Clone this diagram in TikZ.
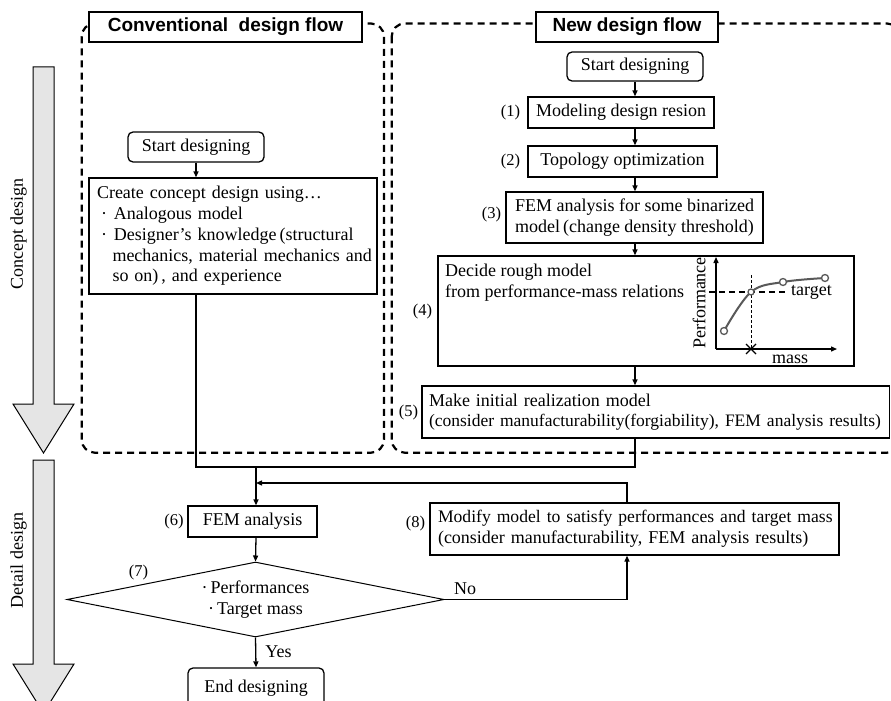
\documentclass[tikz,border=0pt]{standalone}
\usepackage{fontspec}
\setmainfont{Liberation Serif}
\newfontfamily\hdrfont{Liberation Sans}
\usetikzlibrary{arrows.meta,shapes.geometric}
\tikzset{
 txt/.style={font=\fontsize{18}{20.7}\selectfont},
 box/.style={draw, line width=1.3pt, fill=white, inner sep=0pt, txt},
 rbox/.style={box, rounded corners=5pt},
 hdr/.style={draw, line width=1.2pt, fill=white, inner sep=0pt, font=\hdrfont\bfseries\fontsize{19}{22}\selectfont},
 num/.style={font=\fontsize{16.5}{19}\selectfont, inner sep=0pt},
 lab/.style={txt, inner sep=0pt},
 arr/.style={line width=1.3pt, -{Triangle[length=6pt,width=5pt]}},
 ln/.style={line width=1.3pt},
 zone/.style={draw, line width=2.2pt, dash pattern=on 7pt off 5pt, rounded corners=13pt},
 bigarrow/.style={draw, line width=1pt, fill=black!10},
 curve/.style={draw=black!65, line width=2pt},
 mk/.style={draw=black!65, line width=1.3pt, fill=white},
}
\begin{document}
\begin{tikzpicture}[x=1pt, y=-1pt]
\useasboundingbox (0,0) rectangle (891,701);
\clip (0,0) rectangle (891,701);

% zones
\draw[zone] (81.7,23.5) rectangle (384,452.7);
\draw[zone] (391.7,23.5) rectangle (900,452.7);

% big side arrows
\draw[bigarrow] (33,67) -- (54,67) -- (54,404) -- (74,404) -- (43.5,453) -- (13,404) -- (33,404) -- cycle;
\draw[bigarrow] (33,460) -- (54,460) -- (54,664) -- (74,664) -- (43.5,713) -- (13,664) -- (33,664) -- cycle;
\node[lab, rotate=90] (cd) at (18.5,234) {Concept design};
\node[lab, rotate=90] (dd) at (18.5,560.5) {Detail design};

% headers
\node[hdr, minimum width=273pt, minimum height=30pt] (hconv) at (225.5,27) {Conventional\ \ design flow};
\node[hdr, minimum width=182pt, minimum height=30pt] (hnew) at (627,27) {New design flow};

% conventional flow
\node[rbox, minimum width=136pt, minimum height=30pt] (cs) at (196,147) {Start designing};
\node[box, text width=272pt, inner xsep=8pt, minimum height=116pt, align=left] (cc) at (233,236)
 {Create concept design using…\\
  \hspace*{4pt}·\hspace*{7pt}Analogous model\\
  \hspace*{4pt}·\hspace*{7pt}Designer’s knowledge\,(structural\\
  \mbox{\hspace*{15.5pt}mechanics, material mechanics and}\\
  \hspace*{15.5pt}so on)\,, and experience};

% new flow
\node[rbox, minimum width=136pt, minimum height=29pt] (ns) at (635,66.5) {Start designing};
\node[box, minimum width=186pt, minimum height=31pt] (n1) at (621,112.5) {Modeling design resion};
\node[box, minimum width=189pt, minimum height=31pt] (n2) at (622.5,161.5) {Topology optimization};
\node[box, minimum width=257pt, minimum height=51pt, align=center] (n3) at (634.5,217.5)
 {FEM analysis for some binarized\\model\,(change density threshold)};
\node[box, minimum width=416pt, minimum height=110pt] (n4) at (646,311) {};
\node[lab, anchor=west, align=left] (n4t) at (445,283) {Decide rough model\\from performance-mass relations};
\node[box, text width=453.5pt, inner xsep=7pt, minimum height=52pt, align=left] (n5) at (655.75,412)
 {Make initial realization model\\
  \mbox{\fontsize{17.5}{20.7}\selectfont (consider manufacturability(forgiability), FEM analysis results)}};

% detail flow
\node[box, minimum width=129pt, minimum height=31pt] (n6) at (252.5,521.5) {FEM analysis};
\node[draw, diamond, aspect=5, line width=1pt, minimum width=377pt, minimum height=75pt, inner sep=0pt, txt, align=center] (n7) at (255.5,599.5)
 {·\hspace{3pt}Performances\\·\hspace{3pt}Target mass};
\node[rbox, minimum width=136pt, minimum height=40pt] (ne) at (256,688) {End designing};
\node[box, text width=393pt, inner xsep=8pt, minimum height=52pt, align=left] (n8) at (634.5,529)
 {\mbox{\fontsize{17.6}{20.7}\selectfont Modify model to satisfy performances and target mass}\\
  (consider manufacturability, FEM analysis results)};

% step numbers
\node[num] (l1) at (510.5,113) {(1)};
\node[num] (l2) at (510.5,161.5) {(2)};
\node[num] (l3) at (491.5,215) {(3)};
\node[num] (l4) at (422.5,311.5) {(4)};
\node[num] (l5) at (408.5,412.5) {(5)};
\node[num] (l6) at (174,521.5) {(6)};
\node[num] (l7) at (138.5,572.5) {(7)};
\node[num] (l8) at (415.5,524) {(8)};

% connectors
\coordinate (jn) at (256,467);
\coordinate (jf) at (256,483);
\coordinate (fb) at (627,483);
\draw[arr] (cs) -- (cs |- cc.north);
\draw[arr] (ns) -- (ns |- n1.north);
\draw[arr] (n1.south -| ns) -- (n2.north -| ns);
\draw[arr] (n2.south -| ns) -- (n3.north -| ns);
\draw[arr] (n3.south -| ns) -- (n4.north -| ns);
\draw[arr] (n4.south -| ns) -- (n5.north -| ns);
\draw[ln] (cc.south -| cs) |- (jn) -| (n5.south -| ns);
\draw[arr] (jn) -- (jn |- n6.north);
\draw[arr] (n6.south -| jn) -- (n7.north);
\draw[arr] (n7.south) -- (ne.north);
\draw[arr] (n7.east) -| (fb |- n8.south);
\draw[arr] (fb |- n8.north) |- (jf);
\node[lab] (yes) at (278.5,652) {Yes};
\node[lab] (no) at (465,588.5) {No};

% graph in (4)
\coordinate (go) at (716,349);
\draw[arr] (go) -- (716,257);
\draw[arr] (go) -- (837,349);
\draw[line width=1.2pt, dash pattern=on 6pt off 4pt] (709,292) -- (787,292);
\draw[line width=1pt, dash pattern=on 3pt off 2pt] (751,275) -- (751,349);
\draw[line width=1.2pt] (746,344) -- (756,354) (746,354) -- (756,344);
\draw[curve] plot[smooth, tension=0.6] coordinates {(724,331) (751,292) (783,282) (825,278)};
\draw[mk] (724,331) circle (3.5pt);
\draw[mk] (751,292) circle (3pt);
\draw[mk] (783,282) circle (3.5pt);
\draw[mk] (825,278) circle (3.5pt);
\node[lab, rotate=90] (perf) at (699,303) {Performance};
\node[lab] (mass) at (790,359) {mass};
\node[lab] (tgt) at (811.5,292) {target};
\end{tikzpicture}
\end{document}
